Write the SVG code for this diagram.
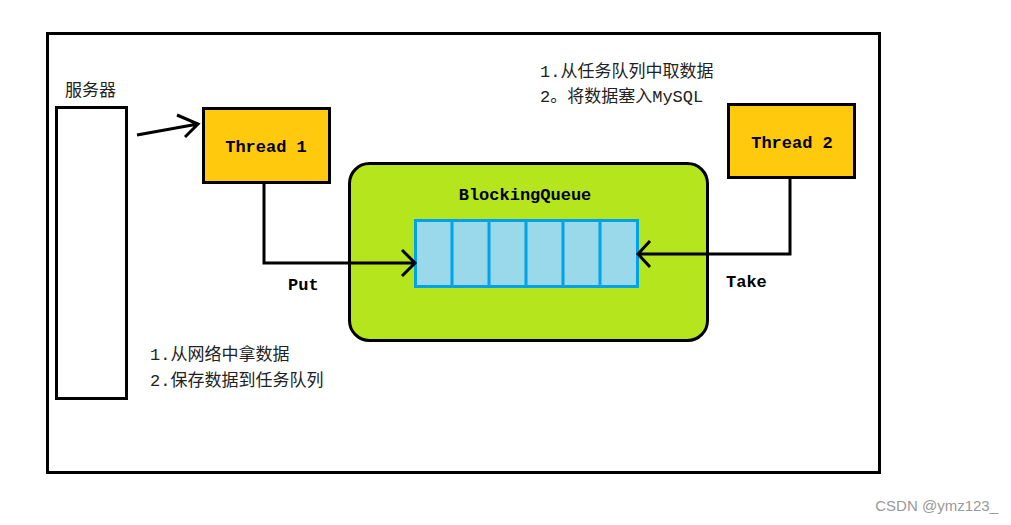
<svg xmlns="http://www.w3.org/2000/svg" width="1011" height="525" viewBox="0 0 1011 525">
<style>
.bx{stroke:#000;stroke-width:3}
.cn{fill:none;stroke:#000;stroke-width:3}
.mono{font-family:"Liberation Mono","Noto Sans CJK SC",monospace;font-size:17px;font-weight:bold;fill:#000}
.cjk{font-family:"Noto Sans CJK SC",sans-serif;font-size:17px;fill:#222}
.cjk2{font-family:"Liberation Mono","Noto Sans CJK SC",monospace;font-size:17px;fill:#222}
</style>
<rect width="1011" height="525" fill="#fff"/>
<rect x="47.5" y="33.5" width="832" height="439" fill="#fff" class="bx"/>
<g id="server">
<rect x="56.5" y="107.5" width="70" height="291" fill="#fff" class="bx"/>
<text x="65" y="96" class="cjk">服务器</text>
</g>
<g id="thread1">
<rect x="203.5" y="108.5" width="126" height="74" fill="#ffc90e" class="bx"/>
<text x="266" y="152" text-anchor="middle" class="mono">Thread 1</text>
</g>
<g id="thread2">
<rect x="728.5" y="104.5" width="126" height="73" fill="#ffc90e" class="bx"/>
<text x="792" y="148" text-anchor="middle" class="mono">Thread 2</text>
</g>
<g id="queue">
<rect x="349.5" y="163.5" width="358" height="177" rx="20" fill="#b5e61d" class="bx"/>
<text x="525" y="200" text-anchor="middle" class="mono">BlockingQueue</text>
<rect x="415.5" y="220.5" width="222" height="66" fill="#99d9ea" stroke="#00a2e8" stroke-width="3"/>
<path d="M452 221V286M489 221V286M526 221V286M563 221V286M600 221V286" stroke="#00a2e8" stroke-width="3"/>
</g>
<g id="connectors">
<path class="cn" d="M137 135L198 124M177 115L198 124L185 137"/>
<path class="cn" d="M264 182V263H414M402 250L415 263L402 276"/>
<path class="cn" d="M790 177V254H640M650 241L638 254L650 267"/>
</g>
<g id="labels">
<text x="288" y="290" class="mono">Put</text>
<text x="726" y="287" class="mono">Take</text>
<text x="150" y="360" class="cjk2" font-weight="normal">1.从网络中拿数据</text>
<text x="150" y="386" class="cjk2" font-weight="normal">2.保存数据到任务队列</text>
<text x="540" y="77" class="cjk2">1.从任务队列中取数据</text>
<text x="540" y="102" class="cjk2">2。将数据塞入MySQL</text>
<text x="998" y="511" text-anchor="end" font-family="Liberation Sans,sans-serif" font-size="15" fill="#999">CSDN @ymz123_</text>
</g>
</svg>
